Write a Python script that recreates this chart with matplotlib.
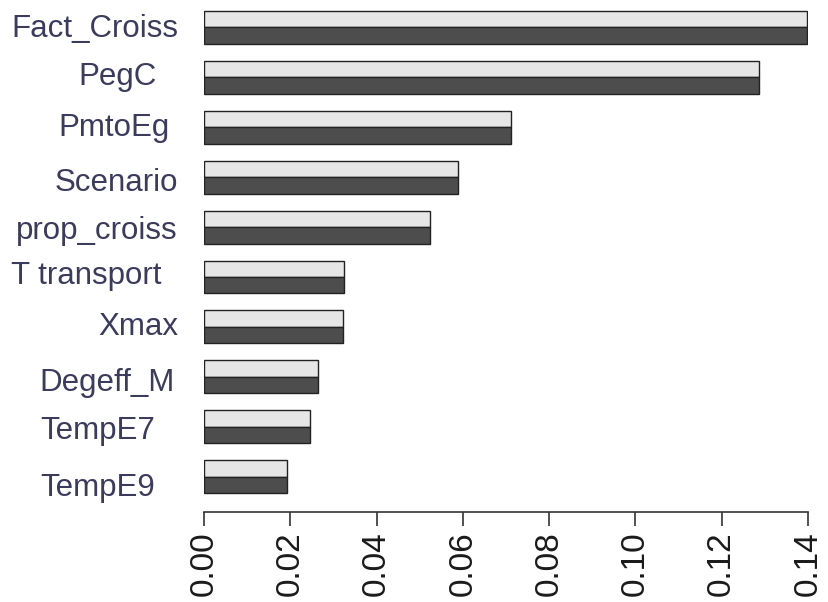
import matplotlib
matplotlib.use("Agg")
import matplotlib.pyplot as plt
import matplotlib.transforms as mtransforms
import numpy as np

variables = ["Fact_Croiss", "PegC", "PmtoEg", "Scenario", "prop_croiss",
             "T transport", "Xmax", "Degeff_M", "TempE7", "TempE9"]
importance_a = [0.1397, 0.1287, 0.0712, 0.0589, 0.0524,
                0.0325, 0.0322, 0.0264, 0.0246, 0.0192]
importance_b = [0.1397, 0.1287, 0.0712, 0.0589, 0.0524,
                0.0325, 0.0322, 0.0264, 0.0246, 0.0192]
xticks = [0.00, 0.02, 0.04, 0.06, 0.08, 0.10, 0.12, 0.14]

# label placement quirks of the original (pixels): right edge, vertical shift
label_right_px = [178, 157, 170, 178, 178, 162, 178, 175, 155, 155]
label_shift_px = [-2, 0, -1, -6, -4, 1, 0, -6, -4, -11]

fig = plt.figure(figsize=(8.29, 6.02), dpi=100)
ax = fig.add_axes([204 / 829, 90 / 602, 604 / 829, 512 / 602])

pos = np.arange(len(variables))
h = 0.33
ax.barh(pos - h / 2, importance_a, height=h, color="#e6e6e6",
        edgecolor="#222222", linewidth=1.0)
ax.barh(pos + h / 2, importance_b, height=h, color="#4d4d4d",
        edgecolor="#222222", linewidth=1.0)

ax.set_xlim(0, 0.14)
ax.set_ylim(9.709, -0.551)

for s in ["top", "right", "left"]:
    ax.spines[s].set_visible(False)
ax.spines["bottom"].set_color("#333333")
ax.spines["bottom"].set_linewidth(1.2)
ax.spines["bottom"].set_bounds(0, 0.14)

ax.set_yticks([])
ax.set_xticks(xticks)
ax.set_xticklabels([f"{t:.2f}" for t in xticks], rotation=90,
                   fontsize=24, family="Liberation Sans", color="#1a1a1a")
ax.tick_params(axis="x", length=10, width=1.2, color="#333333", pad=4)

for i, name in enumerate(variables):
    off = mtransforms.offset_copy(ax.transData, fig=fig,
                                  x=label_right_px[i] - 204,
                                  y=label_shift_px[i], units="dots")
    ax.text(0, i, name, transform=off, ha="right", va="center",
            fontsize=22.5, family="Liberation Sans", color="#3b3b5c",
            clip_on=False)

fig.savefig("out.png", dpi=100)
